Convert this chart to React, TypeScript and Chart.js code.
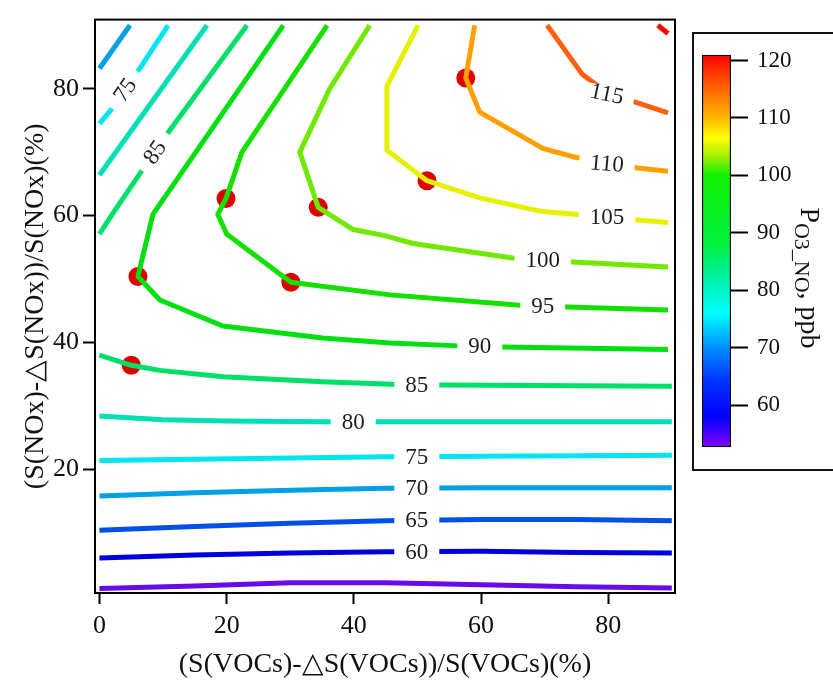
import React, { useEffect, useRef } from 'react';
import { Chart, registerables } from 'chart.js';

Chart.register(...registerables);

// ---------- axis ticks ----------
const xTickValues = [0, 20, 40, 60, 80];
const yTickValues = [20, 40, 60, 80];
const colorbarTickValues = [60, 70, 80, 90, 100, 110, 120];
const colorbarMin = 52.7;
const colorbarMax = 121;

// ---------- contour lines (x, y) ----------
const c55 = [[0, 1.2], [15, 1.6], [30, 2.1], [45, 2.1], [60, 1.8], [75, 1.5], [90, 1.3]];
const c60 = [[0, 6.0], [15, 6.5], [30, 6.8], [45, 7.0], [60, 7.1], [75, 6.9], [90, 6.8]];
const c65 = [[0, 10.4], [15, 11.0], [30, 11.5], [45, 11.9], [60, 12.1], [75, 12.1], [90, 11.9]];
const c70 = [[0, 15.8], [15, 16.3], [30, 16.7], [45, 17.0], [60, 17.1], [90, 17.1]];
const c75 = [[0, 21.4], [30, 21.8], [45, 22.0], [90, 22.2]];
const c80 = [[0, 28.4], [10, 27.8], [20, 27.6], [35, 27.5], [90, 27.5]];
const c85 = [[0, 38.0], [5, 36.4], [9.5, 35.6], [19.5, 34.6], [35, 33.8], [46, 33.4], [54, 33.3], [90, 33.1]];
const c90 = [[28.9, 90], [8.4, 60.2], [6.05, 50.4], [9.5, 46.7], [19.4, 42.6], [35.1, 40.7], [45.7, 39.9], [55.6, 39.5], [63.4, 39.3], [89.4, 38.9]];
const c95 = [[35.8, 90], [22.4, 70.0], [19.9, 62.7], [18.6, 60.2], [20.0, 57.1], [30.1, 49.5], [45.7, 47.5], [65.6, 45.9], [73.7, 45.6], [89.4, 45.1]];
const c100 = [[42.5, 90], [36.2, 80], [31.5, 70], [34.4, 61.3], [39.9, 57.8], [45, 56.8], [49.3, 55.6], [65, 53.3], [74.5, 52.7], [89.4, 51.9]];
const c105 = [[50.1, 90], [45.2, 80.4], [45.2, 70.3], [51.5, 65.5], [59.8, 62.8], [69.3, 60.7], [74.8, 60.2], [84.7, 59.3], [89.4, 58.9]];
const c110 = [[59.0, 90], [57.6, 81.7], [59.8, 76.3], [69.7, 70.6], [74.8, 69.2], [84.7, 67.5], [89.4, 67.0]];
const c115 = [[70.4, 90], [75.9, 82.3], [79.8, 79.4], [84.5, 77.8], [89.4, 76.2]];
const c120 = [[87.8, 90], [89.4, 88.7]];
const c70top = [[0, 83.2], [4.8, 90]];
const c75top = [[0, 74.5], [2.0, 76.9], [6.4, 83.3], [10.8, 90]];
const c80top = [[0, 66.4], [16.9, 90]];
const c85top = [[0, 57.1], [2.0, 60.2], [6.4, 66.7], [10.8, 73.1], [23.2, 90]];

const contourLevels = [55, 60, 65, 70, 75, 80, 85, 90, 95, 100, 105, 110, 115, 120, 70, 75, 80, 85];
const contourPaths = [c55, c60, c65, c70, c75, c80, c85, c90, c95, c100, c105, c110, c115, c120, c70top, c75top, c80top, c85top];

// ---------- colours per level ----------
const levelValues = [55, 60, 65, 70, 75, 80, 85, 90, 95, 100, 105, 110, 115, 120];
const levelColors = ['#6a0ae8', '#0000dd', '#0050e6', '#00a0e6', '#00e6f0', '#00e0b4', '#00e068', '#00e010', '#14e000', '#70e800', '#e6f000', '#ffa000', '#ff6010', '#ff0000'];

// ---------- contour labels ----------
const labelTexts = ['75', '85', '60', '65', '70', '75', '80', '85', '90', '95', '100', '105', '110', '115'];
const labelX = [4.0, 8.7, 49.9, 49.9, 49.9, 49.9, 39.9, 49.9, 59.8, 69.7, 69.7, 79.8, 79.8, 79.8];
const labelY = [79.8, 70.0, 7.0, 12.0, 17.0, 22.0, 27.5, 33.35, 39.4, 45.75, 53.0, 59.75, 68.2, 79.2];
const labelAngle = [-55, -55, 0, 0, 0, 0, 0, 0, 0, 0, 0, 0, 5, 12];

// ---------- red points ----------
const dotX = [5.0, 6.05, 19.9, 30.1, 34.4, 51.5, 57.6];
const dotY = [36.4, 50.4, 62.7, 49.5, 61.3, 65.5, 81.7];

// ---------- colour bar gradient ----------
const cbStopValues = [52.7, 58, 64, 70, 76, 82, 88, 100, 103.5, 106.5, 110.5, 115.5, 121];
const cbStopColors = ['#8800ff', '#0000ff', '#0030ff', '#0090ff', '#00ffff', '#00f0a8', '#00f040', '#10f000', '#a8f000', '#ffff00', '#ffb000', '#ff6000', '#ff0000'];

const SERIF = "'Liberation Serif', 'Times New Roman', Times, serif";

const colorFor = (lvl: number) => levelColors[levelValues.indexOf(lvl)];

export default function App() {
  const mainRef = useRef<HTMLCanvasElement>(null);
  const barRef = useRef<HTMLCanvasElement>(null);

  useEffect(() => {
    const lineSets: any[] = contourPaths.map((path, i) => ({
      type: 'scatter',
      data: path.map(([x, y]) => ({ x, y })),
      showLine: true,
      borderColor: colorFor(contourLevels[i]),
      backgroundColor: colorFor(contourLevels[i]),
      borderWidth: 5,
      borderJoinStyle: 'round',
      pointRadius: 0,
      pointHoverRadius: 0,
      tension: 0,
      fill: false,
    }));
    const dotSet: any = {
      type: 'scatter',
      data: dotX.map((x, i) => ({ x, y: dotY[i] })),
      showLine: false,
      pointRadius: 9.5,
      pointHoverRadius: 9.5,
      pointBorderWidth: 0,
      backgroundColor: '#dd0000',
      borderColor: '#dd0000',
    };

    const labelPlugin = {
      id: 'contourLabels',
      afterDatasetsDraw(chart: any) {
        const { ctx, scales } = chart;
        ctx.save();
        ctx.font = `23px ${SERIF}`;
        labelTexts.forEach((t, i) => {
          const px = scales.x.getPixelForValue(labelX[i]);
          const py = scales.y.getPixelForValue(labelY[i]);
          ctx.save();
          ctx.translate(px, py);
          ctx.rotate((labelAngle[i] * Math.PI) / 180);
          const w = ctx.measureText(t).width;
          ctx.fillStyle = '#ffffff';
          ctx.fillRect(-w / 2 - 11, -7.5, w + 22, 15);
          ctx.fillStyle = '#1e1e1e';
          ctx.textAlign = 'center';
          ctx.textBaseline = 'middle';
          ctx.fillText(t, 0, 1);
          ctx.restore();
        });
        ctx.restore();
      },
      afterDraw(chart: any) {
        const { ctx, chartArea } = chart;
        ctx.save();
        ctx.strokeStyle = '#000';
        ctx.lineWidth = 2;
        ctx.strokeRect(chartArea.left, chartArea.top, chartArea.right - chartArea.left, chartArea.bottom - chartArea.top);
        ctx.restore();
      },
    };

    const main = new Chart(mainRef.current!, {
      type: 'scatter',
      data: { datasets: [...lineSets, dotSet] },
      options: {
        responsive: false,
        animation: false,
        events: [],
        layout: { padding: { top: 13, right: 158, left: 0, bottom: 0 } },
        plugins: { legend: { display: false }, tooltip: { enabled: false } },
        scales: {
          x: {
            type: 'linear',
            min: -0.7,
            max: 90.5,
            afterBuildTicks: (s: any) => { s.ticks = xTickValues.map((v) => ({ value: v })); },
            afterFit: (s: any) => { s.height = 87; },
            grid: { drawOnChartArea: false, drawTicks: true, tickLength: 11, tickWidth: 2, tickColor: '#000' },
            border: { display: true, color: '#000', width: 2 },
            ticks: { font: { family: SERIF, size: 26 }, color: '#111', padding: 7, maxRotation: 0 },
            title: {
              display: true,
              text: '(S(VOCs)-\u25B3S(VOCs))/S(VOCs)(%)',
              font: { family: SERIF, size: 28, lineHeight: 1 },
              color: '#111',
              padding: { top: 0, bottom: 1 },
            },
          },
          y: {
            type: 'linear',
            min: 0.5,
            max: 90.9,
            afterBuildTicks: (s: any) => { s.ticks = yTickValues.map((v) => ({ value: v })); },
            afterFit: (s: any) => { s.width = 95; },
            grid: { drawOnChartArea: false, drawTicks: true, tickLength: 12, tickWidth: 2, tickColor: '#000' },
            border: { display: true, color: '#000', width: 2 },
            ticks: { font: { family: SERIF, size: 26 }, color: '#111', padding: 4 },
            title: {
              display: true,
              text: '(S(NOx)-\u25B3S(NOx))/S(NOx)(%)',
              font: { family: SERIF, size: 28, lineHeight: 1 },
              color: '#111',
              padding: { top: 22, bottom: 0 },
            },
          },
        },
      } as any,
      plugins: [labelPlugin],
    });

    const titlePlugin = {
      id: 'cbTitle',
      afterDraw(chart: any) {
        const ctx = chart.ctx;
        ctx.save();
        ctx.translate(109, 246);
        ctx.rotate(Math.PI / 2);
        ctx.fillStyle = '#111';
        ctx.textBaseline = 'alphabetic';
        ctx.textAlign = 'left';
        const big = `28px ${SERIF}`;
        const small = `22px ${SERIF}`;
        ctx.font = big;
        const wP = ctx.measureText('P').width;
        const wTail = ctx.measureText(', ppb').width;
        ctx.font = small;
        const wSub = ctx.measureText('O3_NO').width;
        const total = wP + wSub + wTail;
        let x = -total / 2;
        ctx.font = big;
        ctx.fillText('P', x, 0);
        x += wP;
        ctx.font = small;
        ctx.fillText('O3_NO', x, 6);
        x += wSub;
        ctx.font = big;
        ctx.fillText(', ppb', x, 0);
        ctx.restore();
      },
    };

    const bar = new Chart(barRef.current!, {
      type: 'bar',
      data: {
        labels: [''],
        datasets: [
          {
            data: [[colorbarMin, colorbarMax]] as any,
            backgroundColor: (c: any) => {
              const area = c.chart.chartArea;
              if (!area) return '#00f000';
              const g = c.chart.ctx.createLinearGradient(0, area.bottom, 0, area.top);
              cbStopValues.forEach((v, i) => {
                g.addColorStop((v - colorbarMin) / (colorbarMax - colorbarMin), cbStopColors[i]);
              });
              return g;
            },
            borderColor: '#000',
            borderWidth: 1.5,
            borderSkipped: false,
            barPercentage: 1,
            categoryPercentage: 1,
          },
        ],
      },
      options: {
        responsive: false,
        animation: false,
        events: [],
        layout: { padding: { left: 10, top: 18, bottom: 19, right: 0 } },
        plugins: { legend: { display: false }, tooltip: { enabled: false } },
        scales: {
          x: { display: false },
          y: {
            position: 'right',
            min: colorbarMin,
            max: colorbarMax,
            afterBuildTicks: (s: any) => { s.ticks = colorbarTickValues.map((v) => ({ value: v })); },
            afterFit: (s: any) => { s.width = 102; },
            grid: { drawOnChartArea: false, drawTicks: true, tickLength: 17, tickWidth: 2, tickColor: '#000' },
            border: { display: false },
            ticks: { font: { family: SERIF, size: 23 }, color: '#111', padding: 9 },
          },
        },
      } as any,
      plugins: [titlePlugin],
    });

    return () => {
      main.destroy();
      bar.destroy();
    };
  }, []);

  return (
    <div style={{ position: 'absolute', left: 0, top: 0, width: 833, height: 680, overflow: 'hidden', background: '#fff' }}>
      <canvas ref={mainRef} width={833} height={680} style={{ position: 'absolute', left: 0, top: 0 }} />
      <div style={{ position: 'absolute', left: 692, top: 32, width: 170, height: 439, border: '2px solid #111', boxSizing: 'border-box' }} />
      <canvas ref={barRef} width={141} height={438} style={{ position: 'absolute', left: 692, top: 32 }} />
    </div>
  );
}
